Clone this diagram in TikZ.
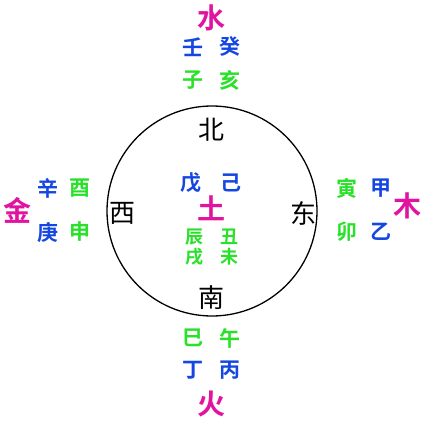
\documentclass[tikz,border=0pt]{standalone}
\usepackage{fontspec}
\newfontfamily\cjk[BoldFont={Noto Sans CJK SC Bold}]{Noto Sans CJK SC}
\definecolor{mag}{RGB}{225,20,160}
\definecolor{blu}{RGB}{20,70,225}
\definecolor{grn}{RGB}{40,225,40}
\tikzset{
  base/.style={inner sep=0pt},
  elem/.style={base, text=mag, font=\cjk\bfseries\fontsize{28}{28}\selectfont},
  stem/.style={base, text=blu, font=\cjk\bfseries\fontsize{21}{21}\selectfont},
  branch/.style={base, text=grn, font=\cjk\bfseries\fontsize{21}{21}\selectfont},
  small/.style={base, text=grn, font=\cjk\bfseries\fontsize{18}{18}\selectfont},
  dir/.style={base, text=black, font=\cjk\fontsize{26}{26}\selectfont},
}
\begin{document}
\begin{tikzpicture}[x=1pt,y=-1pt]
\useasboundingbox (0,0) rectangle (425,425);
\draw[line width=1.3pt] (212,211) circle[radius=105];
% north
\node[elem] (shui) at (211,18) {水};
\node[stem] (ren) at (193,47) {壬};
\node[stem] (gui) at (230,47) {癸};
\node[branch] (zi) at (193,80) {子};
\node[branch] (hai) at (230,80) {亥};
\node[dir] (bei) at (211,130) {北};
% centre
\node[stem] (wu1) at (191,183) {戊};
\node[stem] (ji) at (231,183) {己};
\node[elem] (tu) at (211,208) {土};
\node[small] (chen) at (194,237) {辰};
\node[small] (chou) at (229,237) {丑};
\node[small] (wu2) at (194,257) {戌};
\node[small] (wei) at (229,257) {未};
% west
\node[dir] (xi) at (122,213) {西};
\node[elem] (jin) at (18,210) {金};
\node[stem] (xin) at (48,188) {辛};
\node[stem] (geng) at (48,232) {庚};
\node[branch] (you) at (80,188) {酉};
\node[branch] (shen) at (80,232) {申};
% east
\node[dir] (dong) at (303,213) {东};
\node[branch] (yin) at (347,188) {寅};
\node[branch] (mao) at (347,232) {卯};
\node[stem] (jia) at (381,188) {甲};
\node[stem] (yi) at (381,232) {乙};
\node[elem] (mu) at (407,206) {木};
% south
\node[dir] (nan) at (211,298) {南};
\node[branch] (si) at (193,338) {巳};
\node[branch] (wu3) at (230,338) {午};
\node[stem] (ding) at (193,370) {丁};
\node[stem] (bing) at (230,370) {丙};
\node[elem] (huo) at (211,404) {火};
\end{tikzpicture}
\end{document}
